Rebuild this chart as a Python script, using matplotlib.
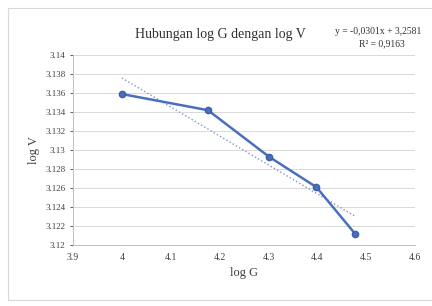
import matplotlib.pyplot as plt
import numpy as np
from matplotlib.ticker import FuncFormatter, MultipleLocator
from matplotlib.patches import Rectangle

log_g = [4.0, 4.176, 4.301, 4.398, 4.477]
log_v = [3.1359, 3.1342, 3.1293, 3.1261, 3.1212]
eq_text = "y = -0,0301x + 3,2581"
r2_text = "R\u00b2 = 0,9163"

plt.rcParams['font.family'] = ['Liberation Serif', 'DejaVu Serif']

fig = plt.figure(figsize=(4.32, 3.06), dpi=100)
fig.patches.append(Rectangle((0.018, 0.02), 0.99, 0.955, transform=fig.transFigure,
                             fill=False, edgecolor='#d9d9d9', linewidth=0.8))
ax = fig.add_axes([0.169, 0.199, 0.792, 0.621])

ax.plot(log_g, log_v, color='#4a6fbf', linewidth=1.8, marker='o', markersize=4.5,
        markerfacecolor='#4a6fbf', markeredgecolor='#3c5ea8', zorder=3)

# linear trendline
k, b = np.polyfit(log_g, log_v, 1)
xs = np.array([log_g[0], log_g[-1]])
ax.plot(xs, k * xs + b, linestyle=':', color='#7f95c0', linewidth=1.0, zorder=2)

ax.set_xlim(3.9, 4.6)
ax.set_ylim(3.12, 3.14)
ax.xaxis.set_major_locator(MultipleLocator(0.1))
ax.yaxis.set_major_locator(MultipleLocator(0.002))
fmt = FuncFormatter(lambda v, p: '%g' % round(v, 4))
ax.xaxis.set_major_formatter(fmt)
ax.yaxis.set_major_formatter(fmt)
ax.tick_params(labelsize=6.5, colors='#404040', length=2, width=0.6)
ax.tick_params(axis='x', length=0, pad=6, labelsize=7)

ax.grid(axis='y', color='#d9d9d9', linewidth=0.7)
ax.set_axisbelow(True)
for s in ['top', 'right']:
    ax.spines[s].set_visible(False)
ax.spines['left'].set_color('#bfbfbf')
ax.spines['bottom'].set_color('#bfbfbf')
ax.spines['left'].set_linewidth(0.7)
ax.spines['bottom'].set_linewidth(0.7)

ax.set_xlabel("log G", fontsize=9, color='#404040', labelpad=3)
ax.set_ylabel("log V", fontsize=9, color='#404040', labelpad=4)

fig.text(0.51, 0.888, "Hubungan log G dengan log V", fontsize=10, ha='center',
         va='center', color='#303030')
fig.text(0.775, 0.897, eq_text, fontsize=6.9, ha='left', va='center', color='#303030')
fig.text(0.885, 0.858, r2_text, fontsize=6.9, ha='center', va='center', color='#303030')

plt.savefig("out.png", dpi=100)
